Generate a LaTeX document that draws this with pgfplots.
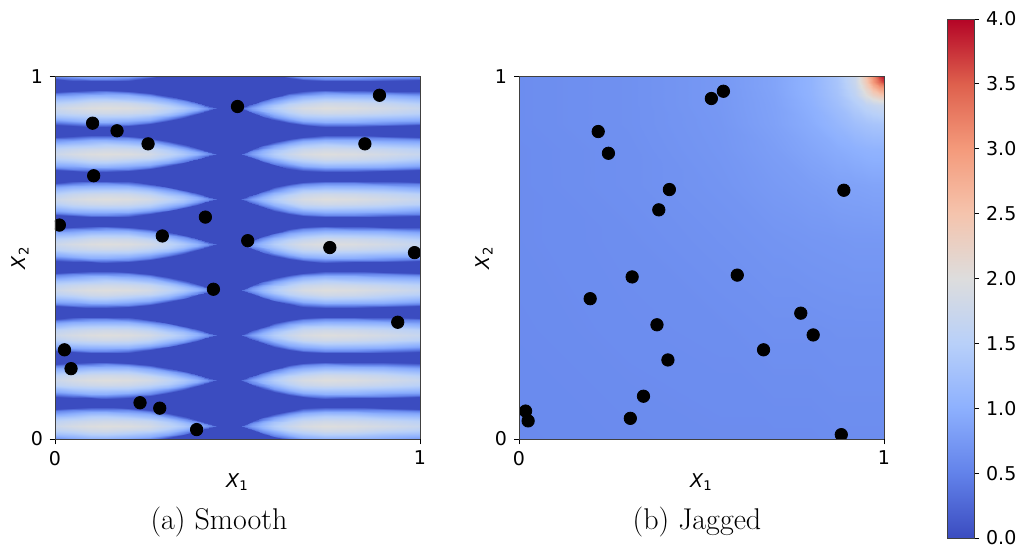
\documentclass[border=0pt]{standalone}
\usepackage{fontspec}
\usepackage{pgfplots}
\pgfplotsset{compat=1.18}
\usepackage{pgfplotstable}
\newfontfamily\dvs{DejaVu Sans}
\newcommand\tk{\dvs\fontsize{9.5}{11}\selectfont}

% one period of the smooth surface: a lens row, grid lines follow the lens outline
\pgfplotstableread{
x dy z
0 -0.0451 0
0.05 -0.0483 0
0.1 -0.0502 0
0.14 -0.0506 0
0.2 -0.0486 0
0.26 -0.0425 0
0.31 -0.0343 0
0.35 -0.0259 0
0.39 -0.0155 0
0.42 -0.0065 0
0.44 0 0
0.475 0 0
0.51 0 0
0.54 -0.0123 0
0.57 -0.023 0
0.6 -0.0319 0
0.64 -0.041 0
0.68 -0.0472 0
0.74 -0.0506 0
0.82 -0.0502 0
0.9 -0.049 0
1 -0.0464 0
0 -0.039 0.53
0.05 -0.0417 0.56
0.1 -0.0433 0.59
0.14 -0.0437 0.60
0.2 -0.042 0.59
0.26 -0.0367 0.56
0.31 -0.0296 0.49
0.35 -0.0223 0.41
0.39 -0.0134 0.32
0.42 -0.0056 0.20
0.44 0 0.09
0.475 0 0
0.51 0 0.09
0.54 -0.0106 0.24
0.57 -0.0199 0.35
0.6 -0.0276 0.44
0.64 -0.0354 0.52
0.68 -0.0408 0.57
0.74 -0.0437 0.60
0.82 -0.0433 0.59
0.9 -0.0423 0.56
1 -0.0401 0.51
0 -0.0328 0.88
0.05 -0.0351 0.94
0.1 -0.0365 0.99
0.14 -0.0368 1.00
0.2 -0.0354 0.99
0.26 -0.0309 0.93
0.31 -0.025 0.81
0.35 -0.0188 0.69
0.39 -0.0113 0.53
0.42 -0.0047 0.33
0.44 0 0.15
0.475 0 0
0.51 0 0.15
0.54 -0.009 0.40
0.57 -0.0167 0.58
0.6 -0.0232 0.73
0.64 -0.0298 0.86
0.68 -0.0343 0.95
0.74 -0.0368 1.00
0.82 -0.0365 0.98
0.9 -0.0356 0.93
1 -0.0338 0.85
0 -0.0226 1.26
0.05 -0.0241 1.35
0.1 -0.0251 1.42
0.14 -0.0253 1.44
0.2 -0.0243 1.42
0.26 -0.0212 1.33
0.31 -0.0172 1.17
0.35 -0.0129 0.99
0.39 -0.0078 0.76
0.42 -0.0032 0.47
0.44 0 0.22
0.475 0 0
0.51 0 0.22
0.54 -0.0062 0.58
0.57 -0.0115 0.83
0.6 -0.016 1.04
0.64 -0.0205 1.24
0.68 -0.0236 1.37
0.74 -0.0253 1.44
0.82 -0.0251 1.40
0.9 -0.0245 1.33
1 -0.0232 1.22
0 -0.0123 1.58
0.05 -0.0132 1.69
0.1 -0.0137 1.77
0.14 -0.0138 1.80
0.2 -0.0133 1.77
0.26 -0.0116 1.67
0.31 -0.0094 1.46
0.35 -0.0071 1.24
0.39 -0.0042 0.95
0.42 -0.0018 0.59
0.44 0 0.27
0.475 0 0
0.51 0 0.27
0.54 -0.0034 0.72
0.57 -0.0063 1.04
0.6 -0.0087 1.31
0.64 -0.0112 1.55
0.68 -0.0129 1.71
0.74 -0.0138 1.80
0.82 -0.0137 1.76
0.9 -0.0134 1.67
1 -0.0127 1.53
0 0 1.75
0.05 0 1.88
0.1 0 1.97
0.14 0 2.00
0.2 0 1.97
0.26 0 1.85
0.31 0 1.62
0.35 0 1.38
0.39 0 1.05
0.42 0 0.65
0.44 0 0.30
0.475 0 0
0.51 0 0.30
0.54 0 0.80
0.57 0 1.15
0.6 0 1.45
0.64 0 1.72
0.68 0 1.90
0.74 0 2.00
0.82 0 1.95
0.9 0 1.85
1 0 1.70
0 0.0123 1.58
0.05 0.0132 1.69
0.1 0.0137 1.77
0.14 0.0138 1.80
0.2 0.0133 1.77
0.26 0.0116 1.67
0.31 0.0094 1.46
0.35 0.0071 1.24
0.39 0.0042 0.95
0.42 0.0018 0.59
0.44 0 0.27
0.475 0 0
0.51 0 0.27
0.54 0.0034 0.72
0.57 0.0063 1.04
0.6 0.0087 1.31
0.64 0.0112 1.55
0.68 0.0129 1.71
0.74 0.0138 1.80
0.82 0.0137 1.76
0.9 0.0134 1.67
1 0.0127 1.53
0 0.0226 1.26
0.05 0.0241 1.35
0.1 0.0251 1.42
0.14 0.0253 1.44
0.2 0.0243 1.42
0.26 0.0212 1.33
0.31 0.0172 1.17
0.35 0.0129 0.99
0.39 0.0078 0.76
0.42 0.0032 0.47
0.44 0 0.22
0.475 0 0
0.51 0 0.22
0.54 0.0062 0.58
0.57 0.0115 0.83
0.6 0.016 1.04
0.64 0.0205 1.24
0.68 0.0236 1.37
0.74 0.0253 1.44
0.82 0.0251 1.40
0.9 0.0245 1.33
1 0.0232 1.22
0 0.0328 0.88
0.05 0.0351 0.94
0.1 0.0365 0.99
0.14 0.0368 1.00
0.2 0.0354 0.99
0.26 0.0309 0.93
0.31 0.025 0.81
0.35 0.0188 0.69
0.39 0.0113 0.53
0.42 0.0047 0.33
0.44 0 0.15
0.475 0 0
0.51 0 0.15
0.54 0.009 0.40
0.57 0.0167 0.58
0.6 0.0232 0.73
0.64 0.0298 0.86
0.68 0.0343 0.95
0.74 0.0368 1.00
0.82 0.0365 0.98
0.9 0.0356 0.93
1 0.0338 0.85
0 0.039 0.53
0.05 0.0417 0.56
0.1 0.0433 0.59
0.14 0.0437 0.60
0.2 0.042 0.59
0.26 0.0367 0.56
0.31 0.0296 0.49
0.35 0.0223 0.41
0.39 0.0134 0.32
0.42 0.0056 0.20
0.44 0 0.09
0.475 0 0
0.51 0 0.09
0.54 0.0106 0.24
0.57 0.0199 0.35
0.6 0.0276 0.44
0.64 0.0354 0.52
0.68 0.0408 0.57
0.74 0.0437 0.60
0.82 0.0433 0.59
0.9 0.0423 0.56
1 0.0401 0.51
0 0.0451 0
0.05 0.0483 0
0.1 0.0502 0
0.14 0.0506 0
0.2 0.0486 0
0.26 0.0425 0
0.31 0.0343 0
0.35 0.0259 0
0.39 0.0155 0
0.42 0.0065 0
0.44 0 0
0.475 0 0
0.51 0 0
0.54 0.0123 0
0.57 0.023 0
0.6 0.0319 0
0.64 0.041 0
0.68 0.0472 0
0.74 0.0506 0
0.82 0.0502 0
0.9 0.049 0
1 0.0464 0
}\smoothtile

% jagged surface on a grid refined towards the (1,1) corner
\pgfplotstableread{
x y z
0 0 0.59
0.3 0 0.60
0.55 0 0.61
0.7 0 0.61
0.8 0 0.61
0.87 0 0.62
0.92 0 0.62
0.95 0 0.62
0.97 0 0.62
0.985 0 0.62
1 0 0.62
0 0.3 0.60
0.3 0.3 0.62
0.55 0.3 0.63
0.7 0.3 0.65
0.8 0.3 0.65
0.87 0.3 0.66
0.92 0.3 0.66
0.95 0.3 0.66
0.97 0.3 0.66
0.985 0.3 0.66
1 0.3 0.66
0 0.55 0.61
0.3 0.55 0.63
0.55 0.55 0.67
0.7 0.55 0.70
0.8 0.55 0.72
0.87 0.55 0.73
0.92 0.55 0.74
0.95 0.55 0.74
0.97 0.55 0.74
0.985 0.55 0.74
1 0.55 0.74
0 0.7 0.61
0.3 0.7 0.65
0.55 0.7 0.70
0.7 0.7 0.76
0.8 0.7 0.80
0.87 0.7 0.84
0.92 0.7 0.85
0.95 0.7 0.86
0.97 0.7 0.87
0.985 0.7 0.87
1 0.7 0.87
0 0.8 0.61
0.3 0.8 0.65
0.55 0.8 0.72
0.7 0.8 0.80
0.8 0.8 0.89
0.87 0.8 0.96
0.92 0.8 1.01
0.95 0.8 1.04
0.97 0.8 1.05
0.985 0.8 1.05
1 0.8 1.05
0 0.87 0.62
0.3 0.87 0.66
0.55 0.87 0.73
0.7 0.87 0.84
0.8 0.87 0.96
0.87 0.87 1.10
0.92 0.87 1.22
0.95 0.87 1.28
0.97 0.87 1.31
0.985 0.87 1.32
1 0.87 1.33
0 0.92 0.62
0.3 0.92 0.66
0.55 0.92 0.74
0.7 0.92 0.85
0.8 0.92 1.01
0.87 0.92 1.22
0.92 0.92 1.44
0.95 0.92 1.59
0.97 0.92 1.67
0.985 0.92 1.72
1 0.92 1.73
0 0.95 0.62
0.3 0.95 0.66
0.55 0.95 0.74
0.7 0.95 0.86
0.8 0.95 1.04
0.87 0.95 1.28
0.92 0.95 1.59
0.95 0.95 2.00
0.97 0.95 2.25
0.985 0.95 2.40
1 0.95 2.50
0 0.97 0.62
0.3 0.97 0.66
0.55 0.97 0.74
0.7 0.97 0.87
0.8 0.97 1.05
0.87 0.97 1.31
0.92 0.97 1.67
0.95 0.97 2.25
0.97 0.97 2.70
0.985 0.97 3.00
1 0.97 3.10
0 0.985 0.62
0.3 0.985 0.66
0.55 0.985 0.74
0.7 0.985 0.87
0.8 0.985 1.05
0.87 0.985 1.32
0.92 0.985 1.72
0.95 0.985 2.40
0.97 0.985 3.00
0.985 0.985 3.40
1 0.985 3.70
0 1 0.62
0.3 1 0.66
0.55 1 0.74
0.7 1 0.87
0.8 1 1.05
0.87 1 1.33
0.92 1 1.73
0.95 1 2.50
0.97 1 3.10
0.985 1 3.70
1 1 4.00
}\jaggedgrid

\pgfplotsset{
  colormap={coolwarm}{rgb255(0)=(59,76,192) rgb255(1)=(98,130,234) rgb255(2)=(141,176,254) rgb255(3)=(184,208,249) rgb255(4)=(221,221,221) rgb255(5)=(245,196,173) rgb255(6)=(244,154,123) rgb255(7)=(222,96,77) rgb255(8)=(180,4,38)},
  heat/.style={
    view={0}{90}, scale only axis, width=182.5pt, height=181.3pt,
    xmin=0, xmax=1, ymin=0, ymax=1,
    xtick={0,1}, ytick={0,1}, ztick=\empty,
    tick align=outside, major tick length=2.5pt,
    xtick pos=left, ytick pos=left,
    tick style={black, line width=0.4pt},
    axis line style={line width=0.4pt, black!75},
    ticklabel style={font=\tk},
    /pgf/number format/assume math mode=true,
    label style={font=\tk},
    xlabel={\textit{X}\textsubscript{1}},
    ylabel={\textit{X}\textsubscript{2}},
    xlabel style={at={(axis description cs:0.5,-0.119)}, anchor=center},
    ylabel style={at={(axis description cs:-0.096,0.5)}, anchor=center},
    point meta min=0, point meta max=4,
    colormap name=coolwarm,
    clip marker paths=true,
  },
  dots/.style={only marks, mark=*, mark size=3.1pt, black},
}

\begin{document}
\begin{tikzpicture}
\path[use as bounding box] (-27.5pt,-54.5pt) rectangle (482pt,219.5pt);

\begin{axis}[heat, at={(0,0)}, anchor=south west]
\addplot3[surf, shader=flat, point meta=z, mesh/cols=2] coordinates {(0,0,0) (1,0,0) (0,1,0) (1,1,0)};
\pgfplotsinvokeforeach{0,...,8}{
  \addplot3[surf, shader=interp, point meta=z, mesh/cols=22]
    table[x=x, y expr={\thisrow{dy}+0.037+0.125*#1}, z=z] {\smoothtile};
}
\addplot3[dots] coordinates {
(0.500,0.917,0) (0.889,0.948,0) (0.103,0.871,0) (0.170,0.850,0) (0.255,0.814,0)
(0.849,0.814,0) (0.106,0.726,0) (0.012,0.590,0) (0.412,0.612,0) (0.294,0.560,0)
(0.528,0.547,0) (0.753,0.528,0) (0.985,0.514,0) (0.434,0.413,0) (0.939,0.322,0)
(0.026,0.246,0) (0.044,0.194,0) (0.233,0.100,0) (0.287,0.085,0) (0.388,0.026,0)
};
\end{axis}

\begin{axis}[heat, at={(232pt,0)}, anchor=south west,
  colorbar,
  colorbar style={
    at={(parent axis.south west)}, anchor=north west,
    xshift=205.5pt, yshift=210pt,
    scale only axis, width=13.5pt, height=259.5pt,
    ytick={0,0.5,...,4},
    yticklabel style={font=\tk, /pgf/number format/.cd, fixed, fixed zerofill, precision=1, assume math mode=true},
    tick align=outside, major tick length=2.5pt,
    tick style={black, line width=0.4pt},
    ytick pos=right, yticklabel pos=right,
    axis line style={line width=0.4pt, black!75},
  }]
\addplot3[surf, shader=interp, point meta=z, mesh/cols=11] table[x=x, y=y, z=z] {\jaggedgrid};
\addplot3[dots] coordinates {
(0.527,0.939,0) (0.560,0.959,0) (0.217,0.848,0) (0.245,0.788,0) (0.412,0.688,0)
(0.890,0.686,0) (0.383,0.632,0) (0.310,0.447,0) (0.598,0.452,0) (0.195,0.387,0)
(0.772,0.347,0) (0.378,0.315,0) (0.806,0.287,0) (0.670,0.246,0) (0.408,0.218,0)
(0.341,0.118,0) (0.018,0.077,0) (0.025,0.050,0) (0.305,0.057,0) (0.883,0.012,0)
};
\end{axis}

\node[font=\fontsize{15}{18}\selectfont] at (82pt,-41.5pt) {(a) Smooth};
\node[font=\fontsize{15}{18}\selectfont] at (321pt,-41.5pt) {(b) Jagged};
\end{tikzpicture}
\end{document}
